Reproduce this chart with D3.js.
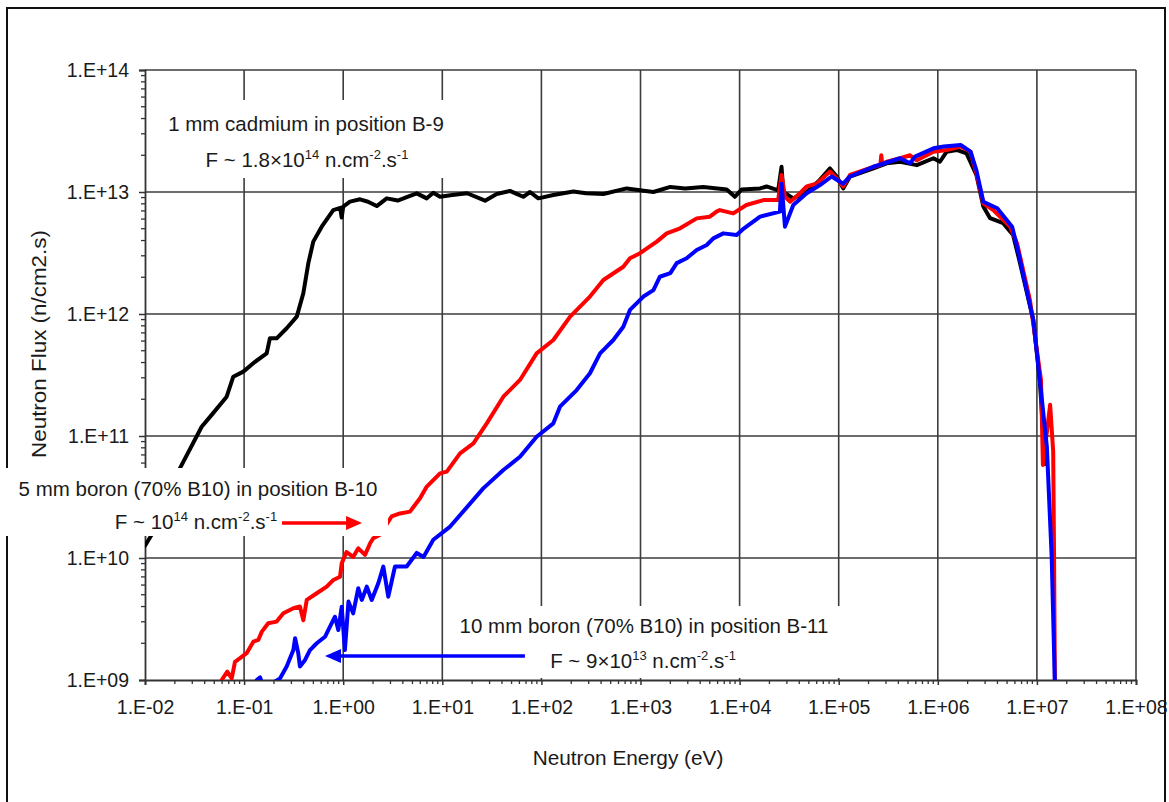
<!DOCTYPE html>
<html><head><meta charset="utf-8">
<script src="https://cdn.jsdelivr.net/npm/d3@7"></script>
<style>html,body{margin:0;padding:0;background:#fff;}svg{display:block;font-family:"Liberation Sans",Arial,sans-serif;}</style>
</head><body>
<svg id="c" width="1169" height="802"></svg>
<script>
// ---- data ----
const xTickValues = [1e-2,1e-1,1e0,1e1,1e2,1e3,1e4,1e5,1e6,1e7,1e8];
const xTickLabels = ["1.E-02","1.E-01","1.E+00","1.E+01","1.E+02","1.E+03","1.E+04","1.E+05","1.E+06","1.E+07","1.E+08"];
const yTickValues = [1e9,1e10,1e11,1e12,1e13,1e14];
const yTickLabels = ["1.E+09","1.E+10","1.E+11","1.E+12","1.E+13","1.E+14"];

// 1 mm cadmium, B-9 (black)
const cadmiumE = [1.0e-2,1.41e-2,2.0e-2,2.25e-2,3.73e-2,4.71e-2,6.67e-2,7.78e-2,9.82e-2,0.129,0.169,0.182,0.213,0.269,0.34,0.396,0.445,0.499,0.607,0.794,0.933,0.966,1.0,1.17,1.48,1.78,2.18,2.75,3.55,4.38,5.52,6.97,8.11,9.49,12.6,17.8,27,35.4,48.2,56.2,65.6,76.7,93.1,132,210,282,422,724,1350,2000,2820,4300,7410,8970,1.05e4,1.61e4,1.87e4,2.45e4,2.65e4,2.76e4,3.48e4,4.75e4,6.22e4,8.17e4,9.55e4,1.11e5,1.3e5,2.24e5,3.05e5,4.17e5,6.14e5,9.04e5,1.05e6,1.23e6,1.55e6,1.95e6,2.45e6,2.88e6,3.37e6,4.57e6,5.75e6,6.76e6,9.2e6,1.07e7,1.17e7,1.21e7];
const cadmiumF = [1.26e10,2.0e10,4.0e10,5.43e10,1.19e11,1.49e11,2.1e11,3.06e11,3.37e11,4.06e11,4.76e11,6.32e11,6.32e11,7.64e11,9.51e11,1.48e12,2.61e12,3.92e12,5.2e12,7.11e12,7.41e12,6.17e12,7.59e12,8.34e12,8.71e12,8.32e12,7.67e12,8.87e12,8.51e12,9.06e12,9.75e12,8.87e12,9.86e12,9.14e12,9.44e12,9.77e12,8.49e12,9.64e12,1.02e13,9.66e12,9.14e12,1.0e13,8.87e12,9.44e12,1.01e13,9.77e12,9.64e12,1.07e13,1.0e13,1.1e13,1.07e13,1.1e13,1.05e13,9.14e12,1.05e13,1.07e13,1.11e13,1.03e13,1.61e13,1.0e13,8.87e12,1.0e13,1.22e13,1.56e13,1.34e13,1.07e13,1.34e13,1.56e13,1.72e13,1.77e13,1.66e13,1.89e13,1.77e13,2.14e13,2.21e13,2.07e13,1.38e13,7.59e12,6.1e12,5.55e12,4.45e12,2.61e12,8.91e11,2.88e11,8.9e10,5.89e10];

// 5 mm boron, B-10 (red)
const boron5E = [5.62e-2,5.94e-2,6.76e-2,7.5e-2,8.09e-2,9.1e-2,0.106,0.124,0.139,0.151,0.175,0.213,0.249,0.314,0.366,0.396,0.429,0.541,0.682,0.796,0.929,0.966,1.08,1.26,1.42,1.66,1.87,2.01,2.35,3.08,3.74,4.72,5.96,6.97,9.49,11.1,15.1,20.6,28.1,41.3,60.8,89.5,132,195,309,422,671,783,989,1460,1840,2510,3690,5010,5850,6310,8630,1.17e4,1.74e4,2.45e4,2.65e4,2.87e4,3.24e4,4.07e4,4.75e4,5.98e4,8.17e4,9.55e4,1.11e5,1.3e5,2.24e5,2.63e5,2.69e5,2.75e5,3.05e5,4.17e5,5.25e5,6.14e5,9.04e5,1.23e6,1.7e6,2.14e6,2.45e6,2.88e6,3.63e6,5.37e6,6.31e6,8.51e6,1.1e7,1.15e7,1.36e7,1.46e7,1.49e7,1.52e7];
const boron5F = [7.94e8,1.0e9,1.17e9,1.03e9,1.41e9,1.51e9,1.66e9,2.06e9,2.13e9,2.49e9,2.92e9,3.01e9,3.52e9,3.87e9,4.0e9,3.09e9,4.53e9,5.14e9,5.82e9,6.61e9,7.03e9,9.04e9,1.12e10,1.02e10,1.2e10,1.06e10,1.32e10,1.45e10,1.55e10,2.19e10,2.32e10,2.4e10,3.09e10,3.85e10,4.94e10,5.11e10,7.21e10,8.71e10,1.27e11,2.1e11,2.88e11,4.76e11,6.12e11,9.51e11,1.39e12,1.9e12,2.44e12,2.86e12,3.15e12,3.92e12,4.58e12,5.04e12,6.08e12,6.28e12,6.9e12,7.11e12,6.68e12,7.82e12,8.59e12,8.59e12,1.38e13,9.14e12,8.32e12,9.77e12,1.11e13,1.17e13,1.47e13,1.29e13,1.11e13,1.38e13,1.61e13,1.66e13,2.0e13,1.7e13,1.77e13,1.89e13,2.0e13,1.82e13,2.14e13,2.21e13,2.36e13,2.14e13,1.42e13,8.07e12,7.11e12,5.2e12,3.79e12,1.3e12,2.88e11,5.78e10,1.8e11,7.43e10,1.02e10,9.1e8];

// 10 mm boron, B-11 (blue)
const boron10E = [0.129,0.134,0.145,0.158,0.23,0.269,0.314,0.327,0.352,0.366,0.412,0.462,0.541,0.655,0.766,0.826,0.893,0.966,1.04,1.13,1.26,1.42,1.54,1.73,1.94,2.26,2.54,2.85,3.33,4.37,5.52,6.46,8.11,12.0,25.9,41.3,60.8,89.5,132,154,227,309,391,532,671,783,1070,1350,1570,2000,2320,2920,3690,4660,5430,6850,9330,1.1e4,1.61e4,2.55e4,2.65e4,2.87e4,3.48e4,4.75e4,6.47e4,8.49e4,1.11e5,1.3e5,2.24e5,4.17e5,5.25e5,5.89e5,9.04e5,1.15e6,1.7e6,2.14e6,2.45e6,2.88e6,3.98e6,5.62e6,6.31e6,9.2e6,1.07e7,1.26e7,1.41e7,1.52e7];
const boron10F = [9.1e8,1.0e9,1.05e9,8.5e8,1.03e9,1.29e9,1.76e9,2.2e9,1.66e9,1.29e9,1.46e9,1.76e9,2.0e9,2.26e9,2.92e9,3.3e9,2.57e9,3.98e9,1.76e9,4.39e9,3.52e9,5.65e9,4.53e9,5.82e9,4.53e9,6.21e9,8.51e9,4.82e9,8.51e9,8.51e9,1.1e10,1.02e10,1.41e10,1.81e10,3.72e10,5.26e10,6.76e10,9.86e10,1.27e11,1.74e11,2.38e11,3.27e11,4.76e11,6.12e11,7.87e11,1.08e12,1.39e12,1.57e12,2.02e12,2.16e12,2.61e12,2.86e12,3.35e12,3.68e12,4.17e12,4.58e12,4.45e12,5.01e12,6.28e12,6.9e12,1.17e13,5.2e12,7.82e12,9.77e12,1.14e13,1.34e13,1.17e13,1.34e13,1.61e13,1.89e13,1.72e13,1.95e13,2.28e13,2.36e13,2.43e13,2.14e13,1.51e13,8.32e12,7.35e12,5.2e12,3.56e12,8.91e11,2.88e11,8.17e10,1.02e10,9.1e8];

const seriesNames = ["cadmium","boron5","boron10"];
const seriesColors = ["#000000","#ff0000","#0000ff"];

// annotation arrows in data coordinates [E start, E end, flux]
const redArrow = [0.241, 1.55, 1.94e10];
const blueArrow = [68.2, 0.655, 1.57e9];

// ---- drawing ----
const svg = d3.select("#c");
const W = 1169, H = 802;
const x = d3.scaleLog().domain([1e-2,1e8]).range([145,1136]);
const y = d3.scaleLog().domain([1e9,1e14]).range([680,70]);
const font = '"Liberation Sans",Arial,sans-serif';

svg.append("rect").attr("width",W).attr("height",H).attr("fill","#fff");
svg.append("rect").attr("x",7).attr("y",8).attr("width",1158).attr("height",810)
  .attr("fill","none").attr("stroke","#111").attr("stroke-width",2);

const grid = svg.append("g").attr("stroke","#3c3c3c").attr("stroke-width",1.6);
xTickValues.slice(1).forEach(v=>{
  grid.append("line").attr("x1",x(v)).attr("x2",x(v)).attr("y1",y(1e9)).attr("y2",y(1e14));
});
yTickValues.slice(1).forEach(v=>{
  grid.append("line").attr("x1",x(1e-2)).attr("x2",x(1e8)).attr("y1",y(v)).attr("y2",y(v));
});

// axes
const xAxis = d3.axisBottom(x).tickValues(xTickValues).tickFormat((d,i)=>xTickLabels[i]).tickSize(5).tickPadding(22);
const gx = svg.append("g").attr("transform",`translate(0,${y(1e9)})`).call(xAxis);
const yAxis = d3.axisLeft(y).tickValues(yTickValues).tickFormat((d,i)=>yTickLabels[i]).tickSize(6).tickPadding(10);
const gy = svg.append("g").attr("transform",`translate(${x(1e-2)},0)`).call(yAxis);
[gx,gy].forEach(g=>{
  g.select(".domain").attr("stroke","#333").attr("stroke-width",1.8);
  g.selectAll(".tick line").attr("stroke","#333").attr("stroke-width",1.5);
  g.selectAll(".tick text").attr("font-family",font).attr("font-size",19.5).attr("fill","#1a1a1a");
});
gx.selectAll(".tick text").attr("dy","0.35em");

// minor ticks
const minor = svg.append("g").attr("stroke","#333").attr("stroke-width",1.3);
xTickValues.slice(0,-1).forEach(v=>{
  for(let k=2;k<=9;k++){const xv=x(v*k);minor.append("line").attr("x1",xv).attr("x2",xv).attr("y1",y(1e9)).attr("y2",y(1e9)+4);}
});
yTickValues.slice(0,-1).forEach(v=>{
  for(let k=2;k<=9;k++){const yv=y(v*k);minor.append("line").attr("x1",x(1e-2)-4).attr("x2",x(1e-2)).attr("y1",yv).attr("y2",yv);}
});

// curves
svg.append("clipPath").attr("id","clip").append("rect").attr("x",145).attr("y",60).attr("width",1000).attr("height",620);
const line = d3.line().x(d=>x(d[0])).y(d=>y(d[1]));
const series = [[cadmiumE,cadmiumF],[boron5E,boron5F],[boron10E,boron10F]];
const curves = svg.append("g").attr("clip-path","url(#clip)");
series.forEach((s,i)=>{
  const pts = s[0].map((e,j)=>[e,s[1][j]]);
  curves.append("path").datum(pts).attr("class",seriesNames[i]).attr("d",line)
    .attr("fill","none").attr("stroke",seriesColors[i]).attr("stroke-width",4)
    .attr("stroke-linejoin","round").attr("stroke-linecap","round");
});

// label boxes (white backgrounds)
[[150,100,308,78],[0,468,388,68],[450,606,396,72]].forEach(b=>{
  svg.append("rect").attr("x",b[0]).attr("y",b[1]).attr("width",b[2]).attr("height",b[3]).attr("fill","#fff");
});

function label(cx, cy, parts){
  const t = svg.append("text").attr("x",cx).attr("y",cy).attr("text-anchor","middle")
    .attr("font-family",font).attr("font-size",20.5).attr("fill","#1a1a1a");
  let sup=false;
  parts.forEach(p=>{
    const isSup = p.startsWith("^");
    const txt = isSup ? p.slice(1) : p;
    const ts = t.append("tspan").text(txt);
    if(isSup && !sup){ts.attr("dy",-8).attr("font-size",13);sup=true;}
    else if(isSup){ts.attr("font-size",13);}
    else if(!isSup && sup){ts.attr("dy",8);sup=false;}
  });
}
label(306,131,["1 mm cadmium in position B-9"]);
label(307,167,["F ~ 1.8×10","^14"," n.cm","^-2",".s","^-1"]);
label(198,496,["5 mm boron (70% B10) in position B-10"]);
label(196,529,["F ~ 10","^14"," n.cm","^-2",".s","^-1"]);
label(644,633,["10 mm boron (70% B10) in position B-11"]);
label(643,668,["F ~ 9×10","^13"," n.cm","^-2",".s","^-1"]);

// arrows
function arrow(a,color){
  const x0=x(a[0]), x1=x(a[1]), yy=y(a[2]);
  const dir = Math.sign(x1-x0);
  const hl=16, hw=7;
  svg.append("line").attr("x1",x0).attr("x2",x1-dir*hl+dir*2).attr("y1",yy).attr("y2",yy)
    .attr("stroke",color).attr("stroke-width",3.5);
  svg.append("path").attr("d",`M${x1},${yy}L${x1-dir*hl},${yy-hw}L${x1-dir*hl},${yy+hw}Z`).attr("fill",color);
}
arrow(redArrow,"#ff0000");
arrow(blueArrow,"#0000ff");

// axis titles
svg.append("text").attr("x",628).attr("y",765).attr("text-anchor","middle")
  .attr("font-family",font).attr("font-size",20.8).attr("fill","#1a1a1a").text("Neutron Energy (eV)");
svg.append("text").attr("transform","translate(46,344) rotate(-90)").attr("text-anchor","middle")
  .attr("font-family",font).attr("font-size",20).attr("textLength",228).attr("lengthAdjust","spacingAndGlyphs")
  .attr("fill","#1a1a1a").text("Neutron Flux (n/cm2.s)");
</script>
</body></html>
